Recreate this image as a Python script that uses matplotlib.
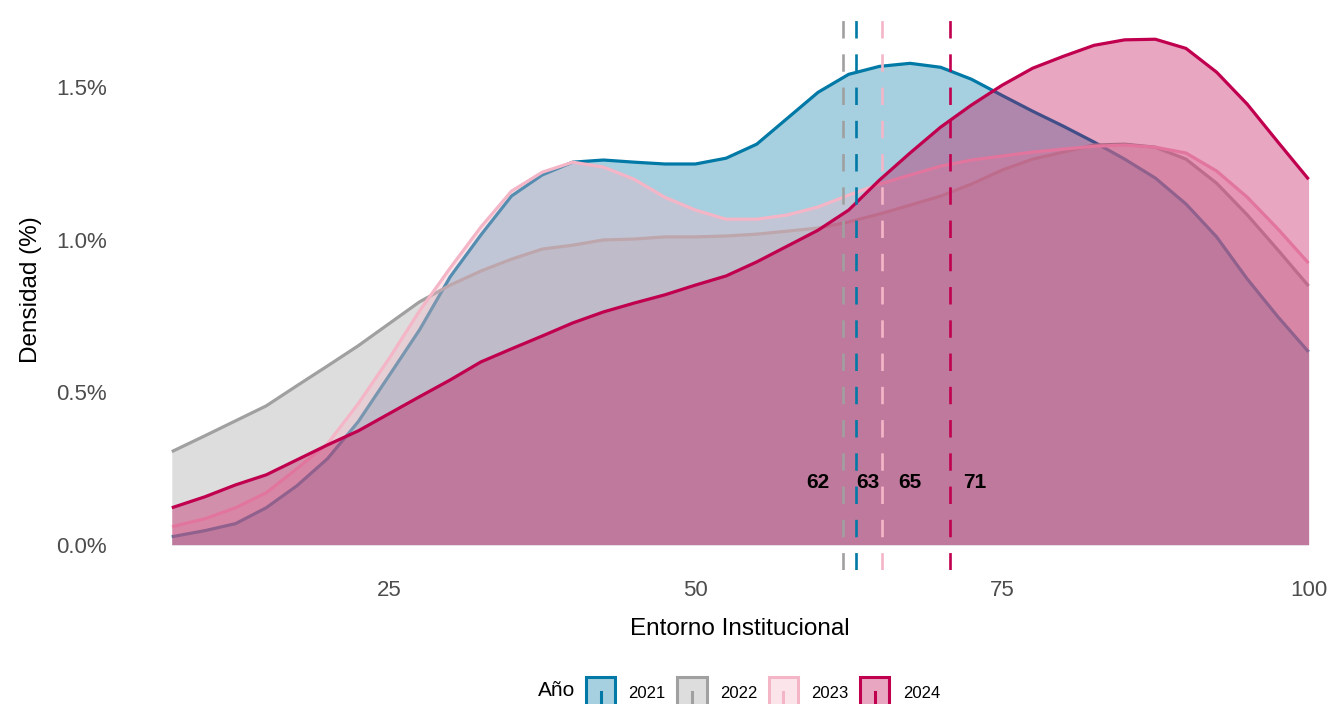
"""Density of 'Entorno Institucional' by year (2021-2024), ggplot-style."""

import matplotlib
matplotlib.use("Agg")
import matplotlib.pyplot as plt
from matplotlib.lines import Line2D
from matplotlib.patches import Patch, Rectangle
from matplotlib.ticker import FuncFormatter
from matplotlib.colors import to_rgba

plt.rcParams["font.family"] = ["Liberation Sans", "DejaVu Sans"]

# x grid (Entorno Institucional)
x_vals = [7.3, 10, 12.5, 15, 17.5, 20, 22.5, 25, 27.5, 30, 32.5, 35, 37.5, 40,
          42.5, 45, 47.5, 50, 52.5, 55, 57.5, 60, 62.5, 65, 67.5, 70, 72.5, 75,
          77.5, 80, 82.5, 85, 87.5, 90, 92.5, 95, 97.5, 100]

# density (%) per year
dens_2021 = [0.026, 0.046, 0.069, 0.121, 0.193, 0.282, 0.403, 0.553, 0.704, 0.878,
             1.015, 1.143, 1.212, 1.254, 1.261, 1.254, 1.248, 1.248, 1.267, 1.313,
             1.398, 1.483, 1.542, 1.568, 1.578, 1.565, 1.526, 1.473, 1.421, 1.372,
             1.320, 1.264, 1.202, 1.117, 1.009, 0.871, 0.747, 0.632]
dens_2022 = [0.305, 0.357, 0.406, 0.455, 0.521, 0.586, 0.652, 0.724, 0.796, 0.851,
             0.897, 0.936, 0.969, 0.982, 0.999, 1.002, 1.009, 1.009, 1.012, 1.018,
             1.028, 1.038, 1.058, 1.084, 1.113, 1.143, 1.182, 1.228, 1.264, 1.287,
             1.310, 1.313, 1.303, 1.264, 1.185, 1.081, 0.966, 0.848]
dens_2023 = [0.059, 0.085, 0.121, 0.170, 0.249, 0.331, 0.462, 0.609, 0.766, 0.907,
             1.041, 1.159, 1.221, 1.254, 1.238, 1.198, 1.139, 1.097, 1.067, 1.067,
             1.081, 1.107, 1.146, 1.182, 1.212, 1.241, 1.261, 1.274, 1.287, 1.297,
             1.306, 1.310, 1.303, 1.284, 1.225, 1.139, 1.035, 0.923]
dens_2024 = [0.121, 0.157, 0.196, 0.229, 0.278, 0.327, 0.373, 0.429, 0.485, 0.540,
             0.599, 0.642, 0.684, 0.727, 0.763, 0.792, 0.819, 0.851, 0.881, 0.927,
             0.979, 1.031, 1.097, 1.195, 1.284, 1.369, 1.441, 1.506, 1.562, 1.601,
             1.637, 1.655, 1.657, 1.627, 1.549, 1.444, 1.320, 1.198]

years = ["2021", "2022", "2023", "2024"]
means = [63.1, 62.0, 65.2, 70.8]
mean_labels = ["63", "62", "65", "71"]
label_x = [64.1, 60.0, 67.5, 72.8]
label_y = 0.203

COLORS = ["#0079A6", "#A0A0A0", "#F4B5C7", "#C0004F"]
FILL_ALPHA = 0.35


class KeyHandler:
    """Square fill key with a short vertical line, like ggplot's legend key."""

    def legend_artist(self, legend, orig_handle, fontsize, handlebox):
        x0, y0 = -handlebox.xdescent, -handlebox.ydescent
        w, h = handlebox.width, handlebox.height
        side = w
        yc = y0 + h / 2
        col = orig_handle.get_edgecolor()
        tr = handlebox.get_transform()
        rect = Rectangle((x0, yc - side / 2), side, side,
                         facecolor=orig_handle.get_facecolor(),
                         edgecolor=col, lw=2.2, transform=tr)
        line = Line2D([x0 + side / 2] * 2, [yc - side / 2, yc], color=col,
                      lw=2.2, transform=tr)
        handlebox.add_artist(rect)
        handlebox.add_artist(line)
        return rect


def main():
    W, H = 1333, 704
    fig = plt.figure(figsize=(W / 100, H / 100), dpi=100)
    # panel in pixels: left 115, right 1365 (cropped), top 13, bottom 570
    ax = fig.add_axes([115 / W, 1 - 570 / H, 1250 / W, 557 / H])

    series = [dens_2021, dens_2022, dens_2023, dens_2024]
    z = 1
    for yr, d, col in zip(years, series, COLORS):
        ax.fill_between(x_vals, 0, d, color=col, alpha=FILL_ALPHA, lw=0, zorder=z)
        ax.plot(x_vals, d, color=col, lw=2.3, zorder=z + 0.5,
                solid_joinstyle="round", solid_capstyle="butt")
        z += 1

    for m, col in zip(means, COLORS):
        ax.axvline(m, color=col, lw=1.9, ls=(0, (6.6, 6.0)), zorder=10)
    for lx, lab in zip(label_x, mean_labels):
        ax.text(lx, label_y, lab, ha="center", va="center", fontsize=15,
                fontweight="bold", color="black", zorder=11)

    ax.set_xlim(2.67, 104.6)
    ax.set_ylim(-0.083, 1.743)
    ax.set_xticks([25, 50, 75, 100])
    ax.set_yticks([0, 0.5, 1.0, 1.5])
    ax.yaxis.set_major_formatter(FuncFormatter(lambda v, _: f"{v:.1f}%"))
    ax.tick_params(length=0, labelsize=16, labelcolor="#4D4D4D")
    ax.tick_params(axis="x", pad=7)
    ax.tick_params(axis="y", pad=6)
    for s in ax.spines.values():
        s.set_visible(False)

    fig.text(740 / W, 1 - 629 / H, "Entorno Institucional", ha="center", va="center",
             fontsize=17.5, color="black")
    fig.text(31 / W, 1 - 290 / H, "Densidad (%)", ha="center", va="center",
             rotation=90, fontsize=17.5, color="black")

    handles = [Patch(facecolor=to_rgba(c, FILL_ALPHA), edgecolor=c) for c in COLORS]
    fig.text(575 / W, 1 - 690 / H, "Año", ha="right", va="center", fontsize=15)
    fig.legend(handles, years, handler_map={Patch: KeyHandler()}, ncol=4,
               loc="center", bbox_to_anchor=(763 / W, 1 - 693 / H), frameon=False,
               fontsize=12, handlelength=1.75, handleheight=0.7, handletextpad=0.8,
               columnspacing=0.7, borderpad=0)

    fig.savefig("out.png", dpi=100)
    plt.close(fig)


if __name__ == "__main__":
    main()
